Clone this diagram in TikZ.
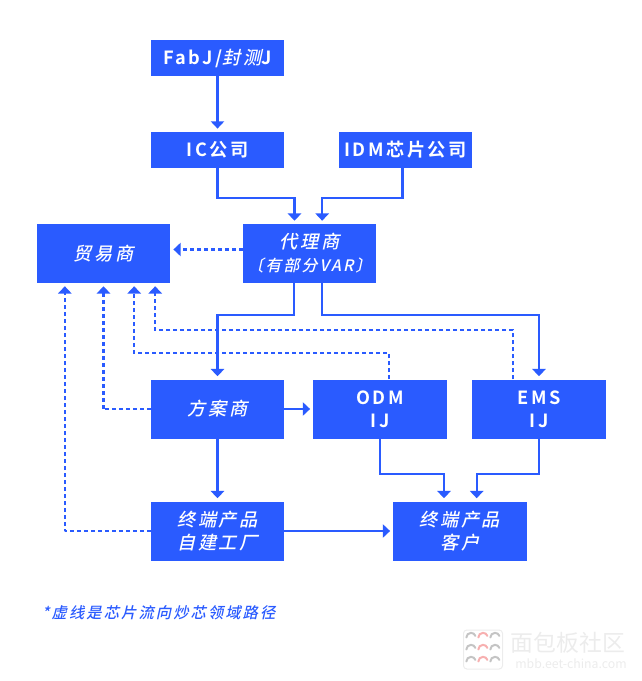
\documentclass[tikz,border=0pt]{standalone}
\usepackage{fontspec}
\usepackage{tikz}
\usetikzlibrary{arrows.meta}
\setmainfont[LetterSpace=14]{Noto Sans CJK SC Bold}
\newfontfamily\cn[FakeSlant=0.22,LetterSpace=14]{Noto Sans CJK SC Medium}
\newfontfamily\wm{Noto Sans CJK SC}
\definecolor{chipblue}{HTML}{2A5BFF}
\definecolor{wmgray}{HTML}{ECECEC}
\definecolor{wmpink}{HTML}{F7B0B0}
\definecolor{wmdark}{HTML}{C4C4C4}
\tikzset{
	box/.style={shape=rectangle,fill=chipblue,text=white,text width=4cm,minimum height=1.77cm,align=center,inner sep=0pt,font=\fontsize{15.5}{19.5}\selectfont},
	thinbox/.style={box,minimum height=1.09cm},
	flow/.style={draw=chipblue,line width=0.062cm,-{Triangle[width=0.4cm,length=0.22cm]},shorten >=0.09cm},
	dashflow/.style={flow,dash pattern=on 0.12cm off 0.09cm},
	wmarc/.style={line width=0.06cm,line cap=round},
}
\begin{document}
\begin{tikzpicture}[x=0.03cm,y=-0.03cm]
	\useasboundingbox (0,0) rectangle (641,681);
	\node[thinbox] (fab) at (217.5,58) {FabJ/{\cn 封测}J};
	\node[thinbox] (ic) at (217.5,150) {IC公司};
	\node[thinbox] (idm) at (405.5,150) {IDM芯片公司};
	\node[box] (agent) at (309.5,253.5) {{\cn 代理商}\\{\fontsize{13.5}{19.5}\selectfont\cn〔有部分VAR〕}};
	\node[box] (trader) at (103.5,253.5) {\cn 贸易商};
	\node[box] (design) at (217.5,409) {\cn 方案商};
	\node[box] (odm) at (380,409) {ODM\\IJ};
	\node[box] (ems) at (539,409) {EMS\\IJ};
	\node[box] (own) at (217.5,531) {{\cn 终端产品}\\{\cn 自建工厂}};
	\node[box] (client) at (460,531) {{\cn 终端产品}\\{\cn 客户}};
	\node[text=chipblue,anchor=west,inner sep=0pt,font=\fontsize{13}{16}\selectfont] (note) at (42,613) {\cn *虚线是芯片流向炒芯领域路径};

	\draw[flow] (fab) -- (ic);
	\draw[flow] (ic.south) -- ++(0,30) -| ([xshift=-0.45cm]agent.north);
	\draw[flow] ([xshift=-0.09cm]idm.south) -- ++(0,30) -| ([xshift=0.38cm]agent.north);
	\draw[flow] ([xshift=-0.47cm]agent.south) -- ++(0,32) -| (design.north);
	\draw[flow] ([xshift=0.38cm]agent.south) -- ++(0,32) -| (ems.north);
	\draw[flow] (design) -- (odm);
	\draw[flow] (design) -- (own);
	\draw[flow] (own) -- (client);
	\draw[flow] (odm.south) -- ++(0,35) -| ([xshift=-0.48cm]client.north);
	\draw[flow] (ems.south) -- ++(0,35) -| ([xshift=0.5cm]client.north);

	\draw[dashflow] ([yshift=0.12cm]agent.west) -- ([yshift=0.12cm]trader.east);
	\draw[dashflow] ([xshift=-0.78cm]ems.north) -- ++(0,-49) -| ([xshift=1.55cm]trader.south);
	\draw[dashflow] ([xshift=0.27cm]odm.north) -- ++(0,-26) -| ([xshift=0.92cm]trader.south);
	\draw[dashflow] (design.west) -- ++(-48,0) -| (trader.south);
	\draw[dashflow] (own.west) -- ++(-86,0) -| ([xshift=-1.16cm]trader.south);

	% watermark
	\node[draw=wmgray,line width=0.03cm,rounded corners=0.1cm,minimum width=1.17cm,minimum height=1.17cm] (logo) at (483,649.5) {};
	\foreach \y in {-12,0,12} {
		\foreach \x/\col in {-12/wmdark,0/wmpink,12/wmdark} {
			\draw[wmarc,\col] ([xshift=\x*0.03cm-0.14cm,yshift=-\y*0.03cm]logo.center) arc (180:20:0.14cm);
		}
	}
	\node[text=wmgray,inner sep=0pt,font=\wm\fontsize{19.5}{22}\selectfont] (wmark) at (568,643) {面包板社区};
	\node[text=wmgray,inner sep=0pt,font=\wm\fontsize{10.5}{12}\selectfont] (wmurl) at (571,664) {mbb.eet-china.com};
\end{tikzpicture}
\end{document}
